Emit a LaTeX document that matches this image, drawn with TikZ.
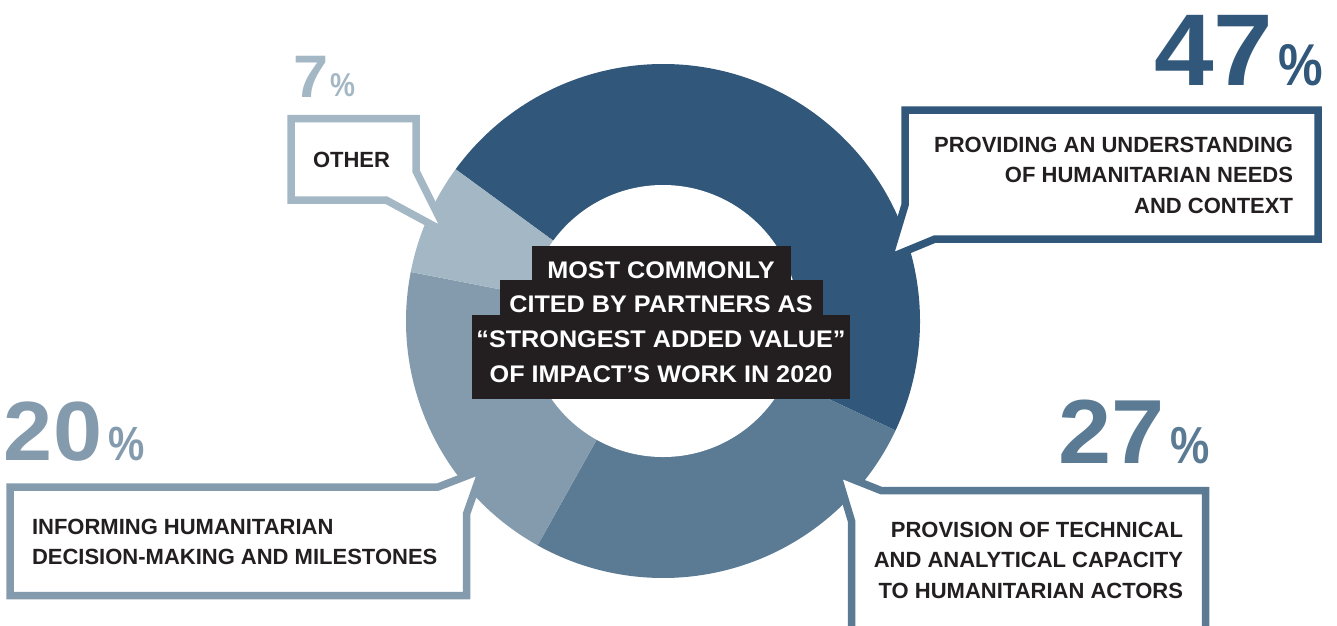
\documentclass[tikz,border=0pt]{standalone}
\usepackage{fontspec}
\setmainfont{Liberation Sans}
\newfontfamily\widefont{Liberation Sans}[FakeStretch=1.05]
\definecolor{cA}{HTML}{31587A}
\definecolor{cB}{HTML}{5A7B93}
\definecolor{cC}{HTML}{849BAE}
\definecolor{cD}{HTML}{A4B7C5}
\definecolor{ink}{HTML}{231F20}
\begin{document}
\begin{tikzpicture}[x=1pt,y=1pt,
  callout/.style={line width=7.5pt, line join=miter, miter limit=20, fill=white},
  lbl/.style={inner sep=0pt, outer sep=0pt, text=ink, font=\bfseries\fontsize{22}{30.5}\selectfont},
  ctrtxt/.style={inner sep=0pt, outer sep=0pt, text=white, align=center, font=\widefont\bfseries\fontsize{24}{34.7}\selectfont},
  bignum/.style={inner sep=0pt, outer sep=0pt, anchor=base west},
  pct/.style={inner sep=0pt, outer sep=0pt, anchor=base west}
]
\useasboundingbox (0,0) rectangle (1337,-625);
\clip (0,0) rectangle (1337,-625);
\coordinate (O) at (663,-321);
% ring
\fill[cA] (O) -- ++(143.8:257) arc[start angle=143.8, end angle=-25.2, radius=257] -- cycle;
\fill[cB] (O) -- ++(-25.2:257) arc[start angle=-25.2, end angle=-119.2, radius=257] -- cycle;
\fill[cC] (O) -- ++(-119.2:257) arc[start angle=-119.2, end angle=-191, radius=257] -- cycle;
\fill[cD] (O) -- ++(169:257) arc[start angle=169, end angle=143.8, radius=257] -- cycle;
\fill[white] (O) circle[radius=136];
% centre label
\fill[ink] (532,-246) rectangle (791,-281);
\fill[ink] (500,-280) rectangle (823,-316);
\fill[ink] (472,-315) rectangle (850,-399);
\node[ctrtxt, anchor=north] (title) at (661,-261.5) {MOST COMMONLY\\CITED BY PARTNERS AS\\“STRONGEST ADDED VALUE”\\OF IMPACT’S WORK IN 2020};
% callouts
\draw[callout, draw=cD] (291,-118.5) -- (416,-118.5) -- (416,-171) -- (447,-233) -- (386,-200) -- (291,-200) -- cycle;
\draw[callout, draw=cA] (905,-110) -- (1318,-110) -- (1318,-239) -- (935,-239) -- (889,-258) -- (905,-205) -- cycle;
\draw[callout, draw=cC] (10,-487) -- (438,-487) -- (482,-470) -- (466.5,-514) -- (466.5,-595.5) -- (10,-595.5) -- cycle;
\draw[callout, draw=cB] (851.5,-640) -- (851.5,-521) -- (837,-473) -- (881,-490.5) -- (1205.5,-490.5) -- (1205.5,-640);
% callout texts
\node[lbl, anchor=base west] (tOther) at (313,-167) {OTHER};
\node[lbl, anchor=north east, align=right] (tNeeds) at (1293,-137) {PROVIDING AN UNDERSTANDING\\OF HUMANITARIAN NEEDS\\AND CONTEXT};
\node[lbl, anchor=north east, align=right] (tCap) at (1183,-522) {PROVISION OF TECHNICAL\\AND ANALYTICAL CAPACITY\\TO HUMANITARIAN ACTORS};
\node[lbl, anchor=north west, align=left] (tDec) at (32,-519) {INFORMING HUMANITARIAN\\DECISION-MAKING AND MILESTONES};
% numbers
\node[bignum, text=cA, font=\widefont\bfseries\fontsize{102}{102}\selectfont] (n47) at (1154,-85) {47};
\node[pct, text=cA, font=\bfseries\fontsize{59}{59}\selectfont] (p47) at (1278,-85) {\scalebox{0.85}[1]{\%}};
\node[bignum, text=cB, font=\widefont\bfseries\fontsize{91}{91}\selectfont] (n27) at (1058,-463) {27};
\node[pct, text=cB, font=\bfseries\fontsize{52}{52}\selectfont] (p27) at (1170,-463) {\scalebox{0.85}[1]{\%}};
\node[bignum, text=cC, font=\widefont\bfseries\fontsize{84}{84}\selectfont] (n20) at (4,-460) {20};
\node[pct, text=cC, font=\bfseries\fontsize{48}{48}\selectfont] (p20) at (108,-460) {\scalebox{0.85}[1]{\%}};
\node[bignum, text=cD, font=\widefont\bfseries\fontsize{60}{60}\selectfont] (n7) at (293,-97) {7};
\node[pct, text=cD, font=\bfseries\fontsize{33}{33}\selectfont] (p7) at (330,-96) {\scalebox{0.85}[1]{\%}};
\end{tikzpicture}
\end{document}
